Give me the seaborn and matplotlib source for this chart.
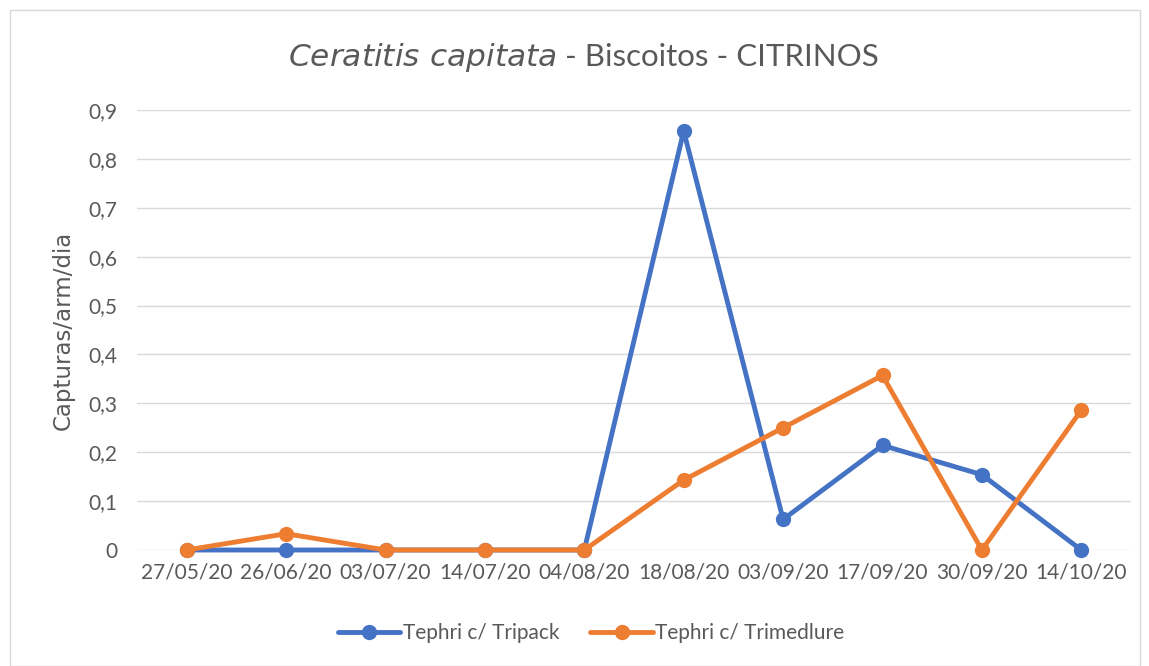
import numpy as np
import matplotlib
matplotlib.use("Agg")
import matplotlib.pyplot as plt
import pandas as pd
import seaborn as sns

dates = ["27/05/20", "26/06/20", "03/07/20", "14/07/20", "04/08/20",
         "18/08/20", "03/09/20", "17/09/20", "30/09/20", "14/10/20"]
tripack = [0, 0, 0, 0, 0, 0.857, 0.0625, 0.214, 0.154, 0]
trimedlure = [0, 0.0333, 0, 0, 0, 0.143, 0.25, 0.357, 0, 0.286]
series_names = ["Tephri c/ Tripack", "Tephri c/ Trimedlure"]
yticks = [0, 0.1, 0.2, 0.3, 0.4, 0.5, 0.6, 0.7, 0.8, 0.9]

df = pd.DataFrame({
    "date": dates * 2,
    "value": tripack + trimedlure,
    "serie": [series_names[0]] * len(dates) + [series_names[1]] * len(dates),
})
df["pos"] = list(range(len(dates))) * 2

sns.set_theme(style="white")
plt.rcParams["font.family"] = ["Lato", "DejaVu Sans"]
txt = "#595959"

fig = plt.figure(figsize=(11.49, 6.66), dpi=100)
ax = fig.add_axes([137 / 1149, 1 - 550 / 666, 994 / 1149, 440 / 666])

# chart border
fig.patches.append(plt.Rectangle((10 / 1149, 0), 1130 / 1149, 656 / 666, transform=fig.transFigure,
                                 fill=False, edgecolor="#d9d9d9", linewidth=1))

sns.lineplot(data=df, x="pos", y="value", hue="serie", palette=["#4472C4", "#ED7D31"],
             marker="o", markersize=11, markeredgewidth=0, linewidth=3.5, ax=ax, legend=True)

ax.set_xlim(-0.5, len(dates) - 0.5)
ax.set_ylim(0, 0.9)
ax.set_xticks(range(len(dates)))
ax.set_xticklabels(dates, fontsize=15, color=txt)
ax.set_yticks(yticks)
ax.set_yticklabels([("%.1f" % v).replace(".", ",") if v else "0" for v in yticks], fontsize=15, color=txt)
ax.tick_params(axis="x", length=0, pad=9)
ax.tick_params(axis="y", length=0, pad=14)
ax.grid(axis="y", color="#d9d9d9", linewidth=1)
ax.set_axisbelow(True)
for s in ax.spines.values():
    s.set_visible(False)
ax.set_xlabel("")
ax.set_ylabel("Capturas/arm/dia", fontsize=16.5, color=txt, family="DejaVu Sans", labelpad=10)
for line in ax.lines:
    line.set_clip_on(False)

fig.text(557 / 1149, 1 - 57 / 666,
         r"$\mathit{Ceratitis\ capitata}$", fontsize=22.5, color=txt, ha="right", va="center")
fig.text(557 / 1149, 1 - 57 / 666, " - Biscoitos - CITRINOS", fontsize=22.5, color=txt,
         ha="left", va="center")

handles, labels = ax.get_legend_handles_labels()
ax.legend(handles, labels, loc="center", bbox_to_anchor=(591 / 1149, 1 - 633 / 666),
          bbox_transform=fig.transFigure, ncol=2, frameon=False, fontsize=15,
          labelcolor=txt, handlelength=3.0, columnspacing=1.5, handletextpad=0.1)

fig.savefig("out.png", dpi=100)
